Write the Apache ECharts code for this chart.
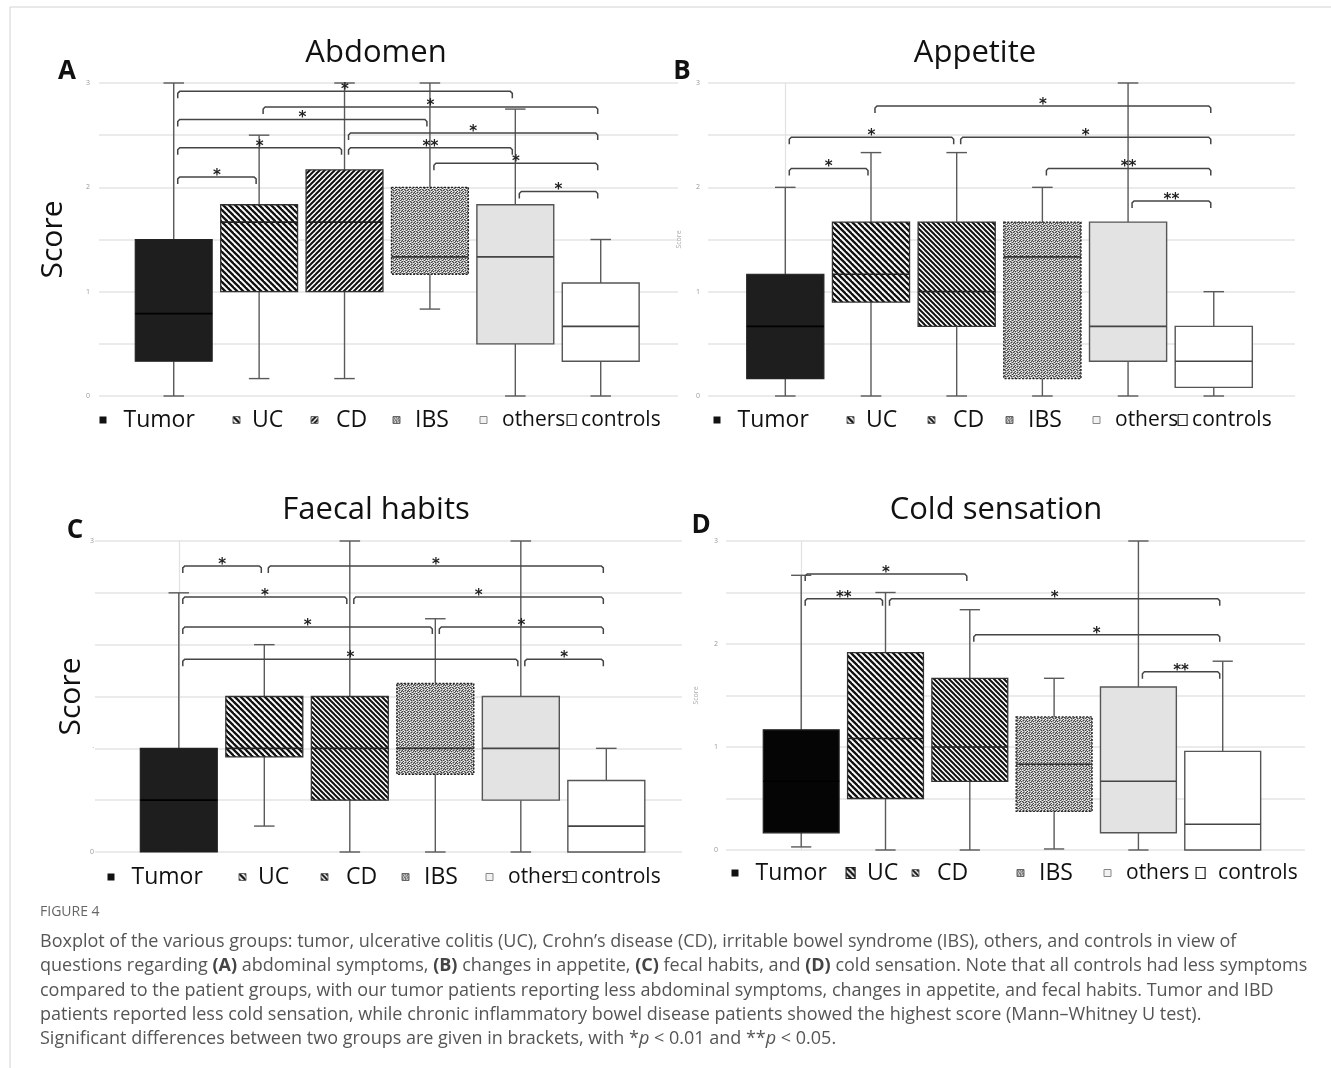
<!DOCTYPE html>
<html>
<head>
<meta charset="utf-8">
<script src="https://cdn.jsdelivr.net/npm/echarts@6.0.0/dist/echarts.min.js"></script>
<style>
html,body{margin:0;padding:0;background:#fff;}
#chart{width:1331px;height:1068px;}
</style>
</head>
<body>
<div id="chart"></div>
<script>
// ---------------- DATA ----------------
const GROUPS = ['Tumor', 'UC', 'CD', 'IBS', 'others', 'controls'];
const PANEL_TITLES = ['Abdomen', 'Appetite', 'Faecal habits', 'Cold sensation'];
const PANEL_LETTERS = ['A', 'B', 'C', 'D'];

// five-number summaries per group: [min, Q1, median, Q3, max]
const abdomenBoxes = [
  [0, 0.333, 0.79, 1.5, 3],
  [0.167, 1, 1.667, 1.833, 2.5],
  [0.167, 1, 1.667, 2.167, 3],
  [0.833, 1.167, 1.333, 2, 3],
  [0, 0.5, 1.333, 1.833, 2.75],
  [0, 0.333, 0.667, 1.083, 1.5]
];
const appetiteBoxes = [
  [0, 0.167, 0.667, 1.167, 2],
  [0, 0.9, 1.167, 1.667, 2.333],
  [0, 0.667, 1, 1.667, 2.333],
  [0, 0.167, 1.333, 1.667, 2],
  [0, 0.333, 0.667, 1.667, 3],
  [0, 0.083, 0.333, 0.667, 1]
];
const faecalBoxes = [
  [0, 0, 0.5, 1, 2.5],
  [0.25, 0.917, 1, 1.5, 2],
  [0, 0.5, 1, 1.5, 3],
  [0, 0.75, 1, 1.625, 2.25],
  [0, 0.5, 1, 1.5, 3],
  [0, 0, 0.25, 0.69, 1]
];
const coldBoxes = [
  [0.03, 0.167, 0.667, 1.167, 2.667],
  [0, 0.5, 1.083, 1.917, 2.5],
  [0, 0.667, 1, 1.667, 2.333],
  [0.01, 0.375, 0.833, 1.292, 1.667],
  [0, 0.167, 0.667, 1.583, 3],
  [0, 0, 0.25, 0.958, 1.833]
];

// significance brackets: [fromGroup, toGroup, level, stars]
const abdomenBrackets = [
  [0, 4, 2.92, '*'], [1, 5, 2.77, '*'], [0, 3, 2.65, '*'], [2, 5, 2.52, '*'],
  [0, 2, 2.38, '*'], [2, 4, 2.38, '**'], [3, 5, 2.23, '*'], [0, 1, 2.10, '*'], [4, 5, 1.96, '*']
];
const appetiteBrackets = [
  [1, 5, 2.78, '*'], [0, 2, 2.48, '*'], [2, 5, 2.48, '*'],
  [0, 1, 2.18, '*'], [3, 5, 2.18, '**'], [4, 5, 1.87, '**']
];
const faecalBrackets = [
  [0, 1, 2.76, '*'], [1, 5, 2.76, '*'], [0, 2, 2.46, '*'], [2, 5, 2.46, '*'],
  [0, 3, 2.17, '*'], [3, 5, 2.17, '*'], [0, 4, 1.86, '*'], [4, 5, 1.86, '*']
];
const coldBrackets = [
  [0, 2, 2.68, '*'], [0, 1, 2.44, '**'], [1, 5, 2.44, '*'], [2, 5, 2.09, '*'], [4, 5, 1.73, '**']
];

// y tick labels (value 0..3)
const tickLabelsA = ['0', '1', '2', '3'];
const tickLabelsB = ['0', '1', '2', '3'];
const tickLabelsC = ['0', '·', '', '3'];
const tickLabelsD = ['0', '1', '2', '3'];

const CAPTION_HEAD = 'FIGURE 4';
const CAPTION_LINES = [
  'Boxplot of the various groups: tumor, ulcerative colitis (UC), Crohn\u2019s disease (CD), irritable bowel syndrome (IBS), others, and controls in view of',
  'questions regarding {b|(A)} abdominal symptoms, {b|(B)} changes in appetite, {b|(C)} fecal habits, and {b|(D)} cold sensation. Note that all controls had less symptoms',
  'compared to the patient groups, with our tumor patients reporting less abdominal symptoms, changes in appetite, and fecal habits. Tumor and IBD',
  'patients reported less cold sensation, while chronic inflammatory bowel disease patients showed the highest score (Mann\u2013Whitney U test).',
  'Significant differences between two groups are given in brackets, with *{i|p} < 0.01 and **{i|p} < 0.05.'
];

const PANEL_BOXES = [abdomenBoxes, appetiteBoxes, faecalBoxes, coldBoxes];
const PANEL_BRACKETS = [abdomenBrackets, appetiteBrackets, faecalBrackets, coldBrackets];
const PANEL_TICKS = [tickLabelsA, tickLabelsB, tickLabelsC, tickLabelsD];

// ---------------- LAYOUT / STYLE ----------------
const FONT = '"Open Sans", "Noto Sans", sans-serif';
const LAYOUT = [
  { grid: { left: 99, top: 83, width: 579, height: 313 }, xMin: -0.875, xMax: 5.905,
    title: [376, 53], letter: [67, 72], nameSize: 30, nameGap: 31, nameColor: '#111', labelMargin: 9,
    legendX: [103, 236, 314, 396, 483, 571], legendY: 420, cdDir: '/', tumor: '#1e1e1e' },
  { grid: { left: 708, top: 83, width: 587, height: 313 }, xMin: -0.902, xMax: 5.948,
    title: [975, 53], letter: [682, 72], nameSize: 7, nameGap: 26, nameColor: '#aaa', labelMargin: 8,
    legendX: [717, 850, 931, 1009, 1096, 1182], legendY: 420, cdDir: '\\', tumor: '#1e1e1e' },
  { grid: { left: 95, top: 541, width: 587, height: 311 }, xMin: -0.98, xMax: 5.885,
    title: [376, 510], letter: [75, 531], nameSize: 30, nameGap: 8, nameColor: '#111', labelMargin: 1,
    legendX: [111, 242, 324, 405, 489, 571], legendY: 877, cdDir: '\\', tumor: '#1e1e1e' },
  { grid: { left: 726, top: 541, width: 579, height: 309 }, xMin: -0.892, xMax: 5.976,
    title: [996, 510], letter: [701, 526], nameSize: 7, nameGap: 27, nameColor: '#aaa', labelMargin: 8,
    legendX: [735, 850, 915, 1020, 1107, 1200], legendY: 873, cdDir: '\\', tumor: '#050505' }
];
const BOX_WIDTH = 0.9;
const CAP_WIDTH = 0.24;

function stripes(period, dir, lw) {
  const c = document.createElement('canvas');
  c.width = period; c.height = period;
  const g = c.getContext('2d');
  g.fillStyle = '#fff'; g.fillRect(0, 0, period, period);
  g.strokeStyle = '#111'; g.lineWidth = lw;
  for (let k = -1; k <= 1; k++) {
    g.beginPath();
    if (dir === '\\') { g.moveTo(k * period - 1, -1); g.lineTo(k * period + period + 1, period + 1); }
    else { g.moveTo(k * period + period + 1, -1); g.lineTo(k * period - 1, period + 1); }
    g.stroke();
  }
  return { image: c, repeat: 'repeat' };
}
function speckle() {
  const c = document.createElement('canvas');
  c.width = 6; c.height = 6;
  const g = c.getContext('2d');
  g.fillStyle = '#a9a9a9'; g.fillRect(0, 0, 6, 6);
  g.fillStyle = '#444';
  [[0,0],[3,0],[1,1],[5,1],[4,2],[2,3],[0,3],[5,4],[3,4],[1,5]].forEach(p => g.fillRect(p[0], p[1], 1, 1));
  g.fillStyle = '#f4f4f4';
  [[1,0],[4,1],[2,2],[0,2],[4,3],[1,4],[2,5],[5,5]].forEach(p => g.fillRect(p[0], p[1], 1, 1));
  return { image: c, repeat: 'repeat' };
}
const UC_FILL = stripes(6, '\\', 2.3);
const CD_FILL = { '/': stripes(5, '/', 2.0), '\\': stripes(5, '\\', 2.0) };
const IBS_FILL = speckle();

function boxStyle(p, gi) {
  const L = LAYOUT[p];
  switch (gi) {
    case 0: return { fill: L.tumor, stroke: '#222', lw: 1.2, median: '#000', dash: null };
    case 1: return { fill: UC_FILL, stroke: '#333', lw: 1.3, median: '#222', dash: null };
    case 2: return { fill: CD_FILL[L.cdDir], stroke: '#333', lw: 1.3, median: '#222', dash: null };
    case 3: return { fill: IBS_FILL, stroke: '#222', lw: 1.4, median: '#333', dash: [2, 1.5] };
    case 4: return { fill: '#e3e3e3', stroke: '#555', lw: 1.4, median: '#444', dash: null };
    default: return { fill: '#fff', stroke: '#555', lw: 1.4, median: '#444', dash: null };
  }
}

function boxRenderer(p, gi) {
  return function (params, api) {
    const x = api.value(0);
    const pMin = api.coord([x, api.value(1)]);
    const pQ1 = api.coord([x, api.value(2)]);
    const pMed = api.coord([x, api.value(3)]);
    const pQ3 = api.coord([x, api.value(4)]);
    const pMax = api.coord([x, api.value(5)]);
    const cx = pQ1[0];
    const bw = api.size([BOX_WIDTH, 0])[0];
    const cw = api.size([CAP_WIDTH, 0])[0];
    const st = boxStyle(p, gi);
    const wl = { stroke: '#5a5a5a', lineWidth: 1.4 };
    const ch = [];
    if (pMax[1] < pQ3[1] - 0.5) {
      ch.push({ type: 'line', shape: { x1: cx, y1: pMax[1], x2: cx, y2: pQ3[1] }, style: wl });
      ch.push({ type: 'line', shape: { x1: cx - cw / 2, y1: pMax[1], x2: cx + cw / 2, y2: pMax[1] }, style: wl });
    }
    if (pMin[1] > pQ1[1] + 0.5) {
      ch.push({ type: 'line', shape: { x1: cx, y1: pQ1[1], x2: cx, y2: pMin[1] }, style: wl });
      ch.push({ type: 'line', shape: { x1: cx - cw / 2, y1: pMin[1], x2: cx + cw / 2, y2: pMin[1] }, style: wl });
    }
    ch.push({ type: 'rect', shape: { x: cx - bw / 2, y: pQ3[1], width: bw, height: pQ1[1] - pQ3[1] },
      style: { fill: st.fill, stroke: st.stroke, lineWidth: st.lw, lineDash: st.dash } });
    ch.push({ type: 'line', shape: { x1: cx - bw / 2, y1: pMed[1], x2: cx + bw / 2, y2: pMed[1] },
      style: { stroke: st.median, lineWidth: 1.6 } });
    return { type: 'group', children: ch };
  };
}

function bracketRenderer(params, api) {
  const a = api.coord([api.value(0), api.value(2)]);
  const b = api.coord([api.value(1), api.value(2)]);
  const n = api.value(3);
  const x1 = a[0] + 4, x2 = b[0] - 3, y = a[1], t = 7;
  return {
    type: 'group',
    children: [
      { type: 'polyline', shape: { points: [[x1, y + t], [x1, y + 2], [x1 + 2, y], [x2 - 2, y], [x2, y + 2], [x2, y + t]] },
        style: { stroke: '#454545', lineWidth: 1.5, fill: null } },
      { type: 'text', x: (x1 + x2) / 2, y: y - 1,
        style: { text: '*'.repeat(n), fill: '#222', font: 'bold 15px "DejaVu Sans"', align: 'center', verticalAlign: 'middle' } }
    ]
  };
}

// legend icon styles per group
const LEGEND_ICON = [
  { color: '#111', borderColor: '#111', borderWidth: 0 },
  { color: UC_FILL, borderColor: '#666', borderWidth: 1 },
  { color: CD_FILL['/'], borderColor: '#666', borderWidth: 1 },
  { color: IBS_FILL, borderColor: '#666', borderWidth: 1 },
  { color: '#f2f2f2', borderColor: '#888', borderWidth: 1 },
  { color: '#fff', borderColor: '#222', borderWidth: 1.2 }
];
const LEGEND_FONT = [23, 23, 23, 23, 21, 21];
const LEGEND_PAD = [12, 7, 13, 10, 10, 0];

// ---------------- BUILD OPTION ----------------
const grid = [], xAxis = [], yAxis = [], series = [], legend = [], graphic = [];

LAYOUT.forEach((L, p) => {
  grid.push(Object.assign({}, L.grid));
  xAxis.push({ type: 'value', gridIndex: p, min: L.xMin, max: L.xMax, show: false });
  const ticks = PANEL_TICKS[p];
  yAxis.push({
    type: 'value', gridIndex: p, min: 0, max: 3, interval: 0.5,
    axisLine: { show: true, lineStyle: { color: '#e2e2e2', width: 1.2 } },
    axisTick: { show: false },
    splitLine: { lineStyle: { color: '#e4e4e4', width: 1.5 } },
    axisLabel: { fontSize: 7, color: '#999', margin: L.labelMargin, fontFamily: FONT,
      formatter: v => (Math.abs(v - Math.round(v)) < 1e-6 ? ticks[Math.round(v)] : '') },
    name: 'Score', nameLocation: 'middle', nameGap: L.nameGap,
    nameTextStyle: { fontSize: L.nameSize, color: L.nameColor, fontFamily: FONT }
  });

  GROUPS.forEach((g, gi) => {
    series.push({
      type: 'custom', name: g, xAxisIndex: p, yAxisIndex: p, silent: true, z: 2,
      renderItem: boxRenderer(p, gi),
      encode: { x: 0, y: [1, 2, 3, 4, 5] },
      data: [[gi].concat(PANEL_BOXES[p][gi])]
    });
    const icon = Object.assign({}, LEGEND_ICON[gi]);
    if (gi === 2) icon.color = CD_FILL[L.cdDir];
    const big = gi === 5 || (p === 3 && gi === 1);
    if (p === 3 && gi === 1) { icon.borderColor = '#222'; icon.borderWidth = 1.2; }
    const w = big ? 9 : 7, h = big ? 11 : 7;
    const pad = (p === 3 && gi === 5) ? 8 : LEGEND_PAD[gi];
    legend.push({
      left: L.legendX[gi] - w / 2, top: L.legendY - 14, padding: 0,
      itemWidth: w, itemHeight: h, itemGap: 0, selectedMode: false,
      data: [{ name: g, icon: 'rect', itemStyle: icon,
        textStyle: { fontSize: LEGEND_FONT[gi], color: '#111', fontFamily: FONT, lineHeight: 28, padding: [0, 0, 0, pad] } }]
    });
  });

  series.push({
    type: 'custom', name: 'sig' + p, xAxisIndex: p, yAxisIndex: p, silent: true, z: 3,
    renderItem: bracketRenderer,
    encode: { x: [0, 1], y: 2 },
    data: PANEL_BRACKETS[p].map(b => [b[0], b[1], b[2], b[3].length])
  });

  graphic.push({ type: 'text', x: L.title[0], y: L.title[1],
    style: { text: PANEL_TITLES[p], font: '31px ' + FONT, fill: '#111', align: 'center', verticalAlign: 'middle' } });
  graphic.push({ type: 'text', x: L.letter[0], y: L.letter[1],
    style: { text: PANEL_LETTERS[p], font: 'bold 26px ' + FONT, fill: '#111', align: 'center', verticalAlign: 'middle' } });
});

// frame
graphic.push({ type: 'line', shape: { x1: 10, y1: 7, x2: 1331, y2: 7 }, style: { stroke: '#d2d2d2', lineWidth: 1 } });
graphic.push({ type: 'line', shape: { x1: 10, y1: 7, x2: 10, y2: 1068 }, style: { stroke: '#d2d2d2', lineWidth: 1 } });

// caption
const CAP_SIZE = 18;
graphic.push({ type: 'text', x: 40, y: 912,
  style: { text: CAPTION_HEAD, font: '14px ' + FONT, fill: '#666', verticalAlign: 'middle' } });
CAPTION_LINES.forEach((t, i) => {
  graphic.push({ type: 'text', x: 40, y: 942 + i * 24.2,
    style: { text: t, font: CAP_SIZE + 'px ' + FONT, fill: '#555', verticalAlign: 'middle',
      rich: {
        b: { fontWeight: 'bold', fontSize: CAP_SIZE, fontFamily: FONT, fill: '#444' },
        i: { fontStyle: 'italic', fontSize: CAP_SIZE, fontFamily: FONT, fill: '#555' }
      } } });
});

const chart = echarts.init(document.getElementById('chart'), null, { renderer: 'canvas', width: 1331, height: 1068 });
chart.setOption({
  backgroundColor: '#fff',
  animation: false,
  grid, xAxis, yAxis, series, legend, graphic
});
</script>
</body>
</html>
